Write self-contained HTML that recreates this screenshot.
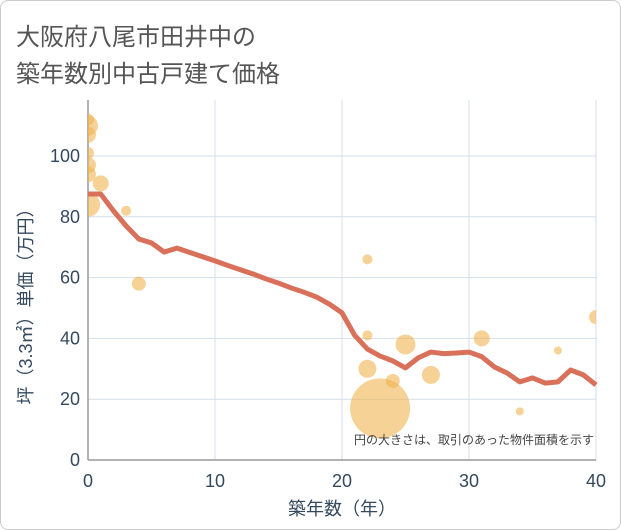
<!DOCTYPE html>
<html><head><meta charset="utf-8"><style>
body{margin:0;background:#fff;font-family:"Liberation Sans","Noto Sans CJK JP",sans-serif}
#card{position:absolute;left:0;top:0;width:619px;height:528px;border:1px solid #ccc;border-radius:8px;background:#fff}
#title{position:absolute;left:16px;top:16px;font-size:24px;line-height:37px;color:#555;font-family:"Noto Sans CJK JP",sans-serif}
svg{position:absolute;left:0;top:0}
</style></head><body>
<div id="card"></div>
<div id="title">大阪府八尾市田井中の<br>築年数別中古戸建て価格</div>
<svg id="chart" width="621" height="530"></svg>
<script>
const xTicks=[0,10,20,30,40];
const yTicks=[0,20,40,60,80,100];
const lineYears=[0,1,2,3,4,5,6,7,8,9,10,11,12,13,14,15,16,17,18,19,20,21,22,23,24,25,26,27,28,29,30,31,32,33,34,35,36,37,38,39,40];
const linePrices=[87.5,87.5,82,77,72.7,71.4,68.4,69.7,68.3,66.9,65.5,64,62.6,61.2,59.6,58.2,56.6,55.2,53.6,51.3,48.4,41,36.5,34.2,32.6,30.3,33.6,35.5,35,35.2,35.5,34,30.6,28.6,25.7,27,25.3,25.7,29.6,28,24.7];
const bubbleYears=[0,0,0,0,0,0,0,1,3,4,22,22,22,23,24,25,27,31,34,37,40];
const bubblePrices=[112,110,107,101,97,94,84,91,82,58,66,41,30,17,26,38,28,40,16,36,47];
const bubbleSizes=[6,10,8,6,8,8,12,8,5,7,5,5,9,30,7,10,9,8,4,4,7];
const svg=document.getElementById('chart');
const NS='http://www.w3.org/2000/svg';
const X0=88,X1=596,Y0=460,Y1=156;
const xs=v=>X0+(v-0)/40*(X1-X0);
const ys=v=>Y0-v/100*(Y0-Y1);
function mk(t,a){const e=document.createElementNS(NS,t);for(const k in a)e.setAttribute(k,a[k]);svg.appendChild(e);return e;}
const clip=mk('clipPath',{id:'pc'});
const cr=document.createElementNS(NS,'rect');cr.setAttribute('x',X0);cr.setAttribute('y',100);cr.setAttribute('width',X1-X0);cr.setAttribute('height',Y0-100);clip.appendChild(cr);
yTicks.forEach(v=>{
 const g=mk('line',{x1:X0,x2:X1,y1:ys(v),y2:ys(v),stroke:'#d3dfe8','stroke-width':1});
 
 
 const t=mk('text',{x:X0-8,y:ys(v)+6,'text-anchor':'end','font-size':18,fill:'#34495e'});
 t.textContent=v;
 
 
});
xTicks.forEach(v=>{
 const g=mk('line',{x1:xs(v),x2:xs(v),y1:100,y2:Y0,stroke:'#d3dfe8','stroke-width':1});
 
 
 const t=mk('text',{x:xs(v),y:Y0+27,'text-anchor':'middle','font-size':18,fill:'#34495e'});
 t.textContent=v;
 
 
});
const ax=mk('line',{x1:X0,x2:X0,y1:100,y2:Y0,stroke:'#999','stroke-width':1.5});


const ax2=mk('line',{x1:X0,x2:X1,y1:Y0,y2:Y0,stroke:'#999','stroke-width':1.5});


const bg=mk('g',{'clip-path':'url(#pc)'});
bubbleYears.forEach((yr,i)=>{
 const c=document.createElementNS(NS,'circle');
 c.setAttribute('cx',xs(yr));c.setAttribute('cy',ys(bubblePrices[i]));c.setAttribute('r',bubbleSizes[i]);
 c.setAttribute('fill','rgba(240,180,80,0.6)');
 
 
 bg.appendChild(c);
});
const p=mk('polyline',{points:lineYears.map((v,i)=>xs(v)+','+ys(linePrices[i])).join(' '),fill:'none',stroke:'#d9705a','stroke-width':5,'stroke-linejoin':'round'});


const note=mk('text',{x:594,y:444,'text-anchor':'end','font-size':12,fill:'#444'});
note.textContent='円の大きさは、取引のあった物件面積を示す';


const xt=mk('text',{x:342,y:515,'text-anchor':'middle','font-size':18,fill:'#34495e'});
xt.textContent='築年数（年）';


const yt=mk('text',{x:0,y:0,'text-anchor':'middle','font-size':18,fill:'#34495e',transform:'translate(32,302) rotate(-90)'});
yt.textContent='坪（3.3㎡）単価（万円）';


</script>
</body></html>
